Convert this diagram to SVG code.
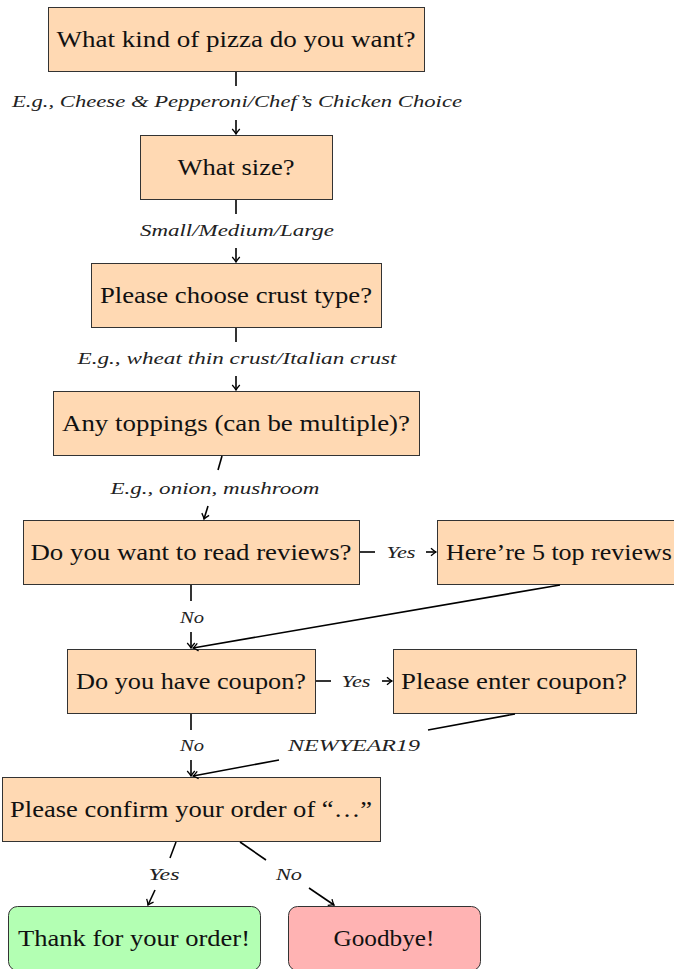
<svg xmlns="http://www.w3.org/2000/svg" width="674" height="969" viewBox="0 0 674 969" font-family="Liberation Serif, DejaVu Serif, serif">
<defs>
<marker id="arr" markerUnits="userSpaceOnUse" markerWidth="12" markerHeight="12" viewBox="-6 -6 12 12" refX="0" refY="0" orient="auto">
<path d="M -5,-3.8 Q -2,-1 0,0 Q -2,1 -5,3.8" fill="none" stroke="#000" stroke-width="1.3"/>
</marker>
<style>
.box{fill:#ffd9b3;stroke:#333;stroke-width:1}
.yes{fill:#b3ffb3;stroke:#333;stroke-width:1}
.no{fill:#ffb3b3;stroke:#333;stroke-width:1}
.t{font-size:24px;fill:#111;text-anchor:middle}
.l{font-style:italic;font-size:17px;fill:#222;text-anchor:middle}
.c{stroke:#000;stroke-width:1.6;fill:none}
.a{marker-end:url(#arr)}
</style>
</defs>
<rect width="674" height="969" fill="#fff"/>
<g id="n1"><rect class="box" x="48.5" y="7.5" width="376" height="64"/><text class="t" font-family="Liberation Serif" x="236" y="47" textLength="359" lengthAdjust="spacingAndGlyphs">What kind of pizza do you want?</text></g>
<g id="n2"><rect class="box" x="140.5" y="135.5" width="192" height="64"/><text class="t" font-family="Liberation Serif" x="236" y="175" textLength="117" lengthAdjust="spacingAndGlyphs">What size?</text></g>
<g id="n3"><rect class="box" x="91.5" y="263.5" width="290" height="64"/><text class="t" font-family="Liberation Serif" x="236" y="303" textLength="272" lengthAdjust="spacingAndGlyphs">Please choose crust type?</text></g>
<g id="n4"><rect class="box" x="53.5" y="391.5" width="366" height="64"/><text class="t" font-family="Liberation Serif" x="236" y="431" textLength="348" lengthAdjust="spacingAndGlyphs">Any toppings (can be multiple)?</text></g>
<g id="n5"><rect class="box" x="23.5" y="520.5" width="336" height="64"/><text class="t" font-family="Liberation Serif" x="191" y="560" textLength="321" lengthAdjust="spacingAndGlyphs">Do you want to read reviews?</text></g>
<g id="n6"><rect class="box" x="437.5" y="520.5" width="250" height="64"/><text class="t" font-family="Liberation Serif" x="559" y="560" textLength="226" lengthAdjust="spacingAndGlyphs">Here’re 5 top reviews</text></g>
<g id="n7"><rect class="box" x="67.5" y="649.5" width="248" height="64"/><text class="t" font-family="Liberation Serif" x="191" y="689" textLength="230" lengthAdjust="spacingAndGlyphs">Do you have coupon?</text></g>
<g id="n8"><rect class="box" x="393.5" y="649.5" width="243" height="64"/><text class="t" font-family="Liberation Serif" x="514" y="689" textLength="226" lengthAdjust="spacingAndGlyphs">Please enter coupon?</text></g>
<g id="n9"><rect class="box" x="2.5" y="777.5" width="378" height="64"/><text class="t" font-family="Liberation Serif" x="191" y="817" textLength="362" lengthAdjust="spacingAndGlyphs">Please confirm your order of “…”</text></g>
<g id="n10"><rect class="yes" x="8.5" y="906.5" width="252" height="64" rx="9"/><text class="t" font-family="Liberation Serif" x="134" y="946" textLength="232" lengthAdjust="spacingAndGlyphs">Thank for your order!</text></g>
<g id="n11"><rect class="no" x="288.5" y="906.5" width="192" height="64" rx="9"/><text class="t" font-family="Liberation Serif" x="384" y="946" textLength="101" lengthAdjust="spacingAndGlyphs">Goodbye!</text></g>
<g id="connectors" font-family="Liberation Serif">
<line class="c" x1="236" y1="72" x2="236" y2="86"/>
<text class="l" x="237" y="107" textLength="450" lengthAdjust="spacingAndGlyphs">E.g., Cheese &amp; Pepperoni/Chef’s Chicken Choice</text>
<line class="c a" x1="236" y1="120" x2="236" y2="134"/>
<line class="c" x1="236" y1="200" x2="236" y2="214"/>
<text class="l" x="237" y="236" textLength="194" lengthAdjust="spacingAndGlyphs">Small/Medium/Large</text>
<line class="c a" x1="236" y1="248" x2="236" y2="262"/>
<line class="c" x1="236" y1="328" x2="236" y2="342"/>
<text class="l" x="237" y="364" textLength="319" lengthAdjust="spacingAndGlyphs">E.g., wheat thin crust/Italian crust</text>
<line class="c a" x1="236" y1="376" x2="236" y2="390"/>
<line class="c" x1="222" y1="456" x2="218" y2="470"/>
<text class="l" x="215" y="494" textLength="209" lengthAdjust="spacingAndGlyphs">E.g., onion, mushroom</text>
<line class="c a" x1="208" y1="506" x2="204" y2="519"/>
<line class="c" x1="360" y1="552" x2="375" y2="552"/>
<text class="l" x="401" y="558" textLength="29" lengthAdjust="spacingAndGlyphs">Yes</text>
<line class="c a" x1="426" y1="552" x2="436" y2="552"/>
<line class="c" x1="191" y1="585" x2="191" y2="601"/>
<text class="l" x="192" y="623" textLength="24" lengthAdjust="spacingAndGlyphs">No</text>
<line class="c a" x1="191" y1="632" x2="191" y2="648"/>
<line class="c a" x1="560" y1="585" x2="193" y2="648"/>
<line class="c" x1="316" y1="681" x2="331" y2="681"/>
<text class="l" x="356" y="687" textLength="29" lengthAdjust="spacingAndGlyphs">Yes</text>
<line class="c a" x1="382" y1="681" x2="392" y2="681"/>
<line class="c" x1="191" y1="714" x2="191" y2="730"/>
<text class="l" x="192" y="751" textLength="24" lengthAdjust="spacingAndGlyphs">No</text>
<line class="c a" x1="191" y1="760" x2="191" y2="776"/>
<line class="c" x1="515" y1="714" x2="428" y2="730"/>
<text class="l" x="354" y="751" textLength="132" lengthAdjust="spacingAndGlyphs">NEWYEAR19</text>
<line class="c a" x1="279" y1="760" x2="193" y2="776"/>
<line class="c" x1="176" y1="842" x2="170" y2="858"/>
<text class="l" x="164" y="880" textLength="31" lengthAdjust="spacingAndGlyphs">Yes</text>
<line class="c a" x1="155" y1="890" x2="148" y2="905"/>
<line class="c" x1="240" y1="842" x2="266" y2="860"/>
<text class="l" x="289" y="880" textLength="26" lengthAdjust="spacingAndGlyphs">No</text>
<line class="c a" x1="309" y1="888" x2="334" y2="905"/>
</g>
</svg>
